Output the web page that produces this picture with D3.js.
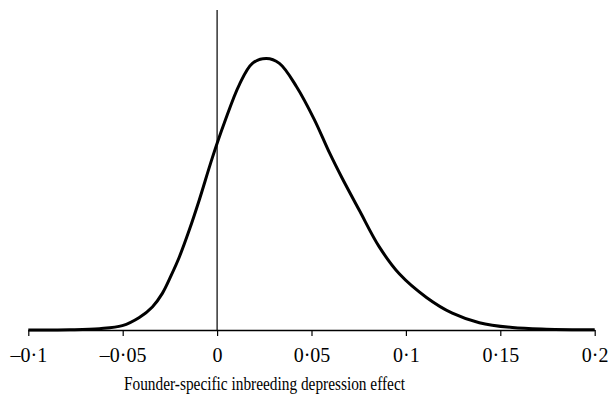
<!DOCTYPE html>
<html><head><meta charset="utf-8">
<script src="https://cdn.jsdelivr.net/npm/d3@7"></script>
<style>body{margin:0;background:#fff}svg{display:block}</style>
</head><body>
<svg id="c" width="608" height="397"></svg>
<script>
const xValues = [-0.1,-0.0782,-0.0623,-0.0502,-0.0412,-0.0343,-0.0290,-0.0242,-0.0200,-0.0147,-0.0094,-0.0025,0.0039,0.0118,0.0187,0.0261,0.0330,0.0420,0.0515,0.0595,0.0664,0.0754,0.0859,0.0965,0.1109,0.1246,0.1389,0.1564,0.1744,0.2];
const densityValues = [0,0.001,0.005,0.016,0.046,0.085,0.135,0.203,0.269,0.369,0.480,0.635,0.764,0.904,0.982,1.0,0.982,0.897,0.775,0.653,0.557,0.440,0.306,0.207,0.120,0.062,0.027,0.009,0.003,0.001];
const tickValues = [-0.1,-0.05,0,0.05,0.1,0.15,0.2];
const tickLabels = ["–0·1","–0·05","0","0·05","0·1","0·15","0·2"];
const xTitle = "Founder-specific inbreeding depression effect";

const svg = d3.select("#c");
const x = d3.scaleLinear().domain([-0.1,0.2]).range([28.3,594.7]);
const y = d3.scaleLinear().domain([0,1]).range([330,58.5]);
const font = "'Liberation Serif', 'Times New Roman', serif";

svg.append("line").attr("x1",x(0)).attr("x2",x(0)).attr("y1",10).attr("y2",y(0))
  .attr("stroke","#000").attr("stroke-width",1.2);

const axis = d3.axisBottom(x).tickValues(tickValues).tickSize(6).tickSizeOuter(0)
  .tickFormat((d,i)=>tickLabels[i]);
const g = svg.append("g").attr("transform",`translate(0,${y(0)})`).call(axis);
g.attr("font-family",font).attr("font-size",20);
g.select(".domain").attr("stroke","#000").attr("stroke-width",1.4);
g.selectAll(".tick line").attr("stroke","#000").attr("stroke-width",1.2);
g.selectAll(".tick text").style("font-family",font).style("font-size","20px").attr("fill","#000").attr("y",32).attr("dy",0);

const data = xValues.map((v,i)=>({x:v,y:densityValues[i]}));
svg.append("path").datum(data)
  .attr("fill","none").attr("stroke","#000").attr("stroke-width",3)
  .attr("stroke-linejoin","round")
  .attr("d", d3.line().x(d=>x(d.x)).y(d=>y(d.y)).curve(d3.curveCatmullRom.alpha(0.5)));

svg.append("text").attr("x",124).attr("y",390).attr("text-anchor","start")
  .attr("textLength",281).attr("lengthAdjust","spacingAndGlyphs")
  .style("font-family",font).style("font-size","19px").attr("fill","#000").text(xTitle);
</script>
</body></html>
